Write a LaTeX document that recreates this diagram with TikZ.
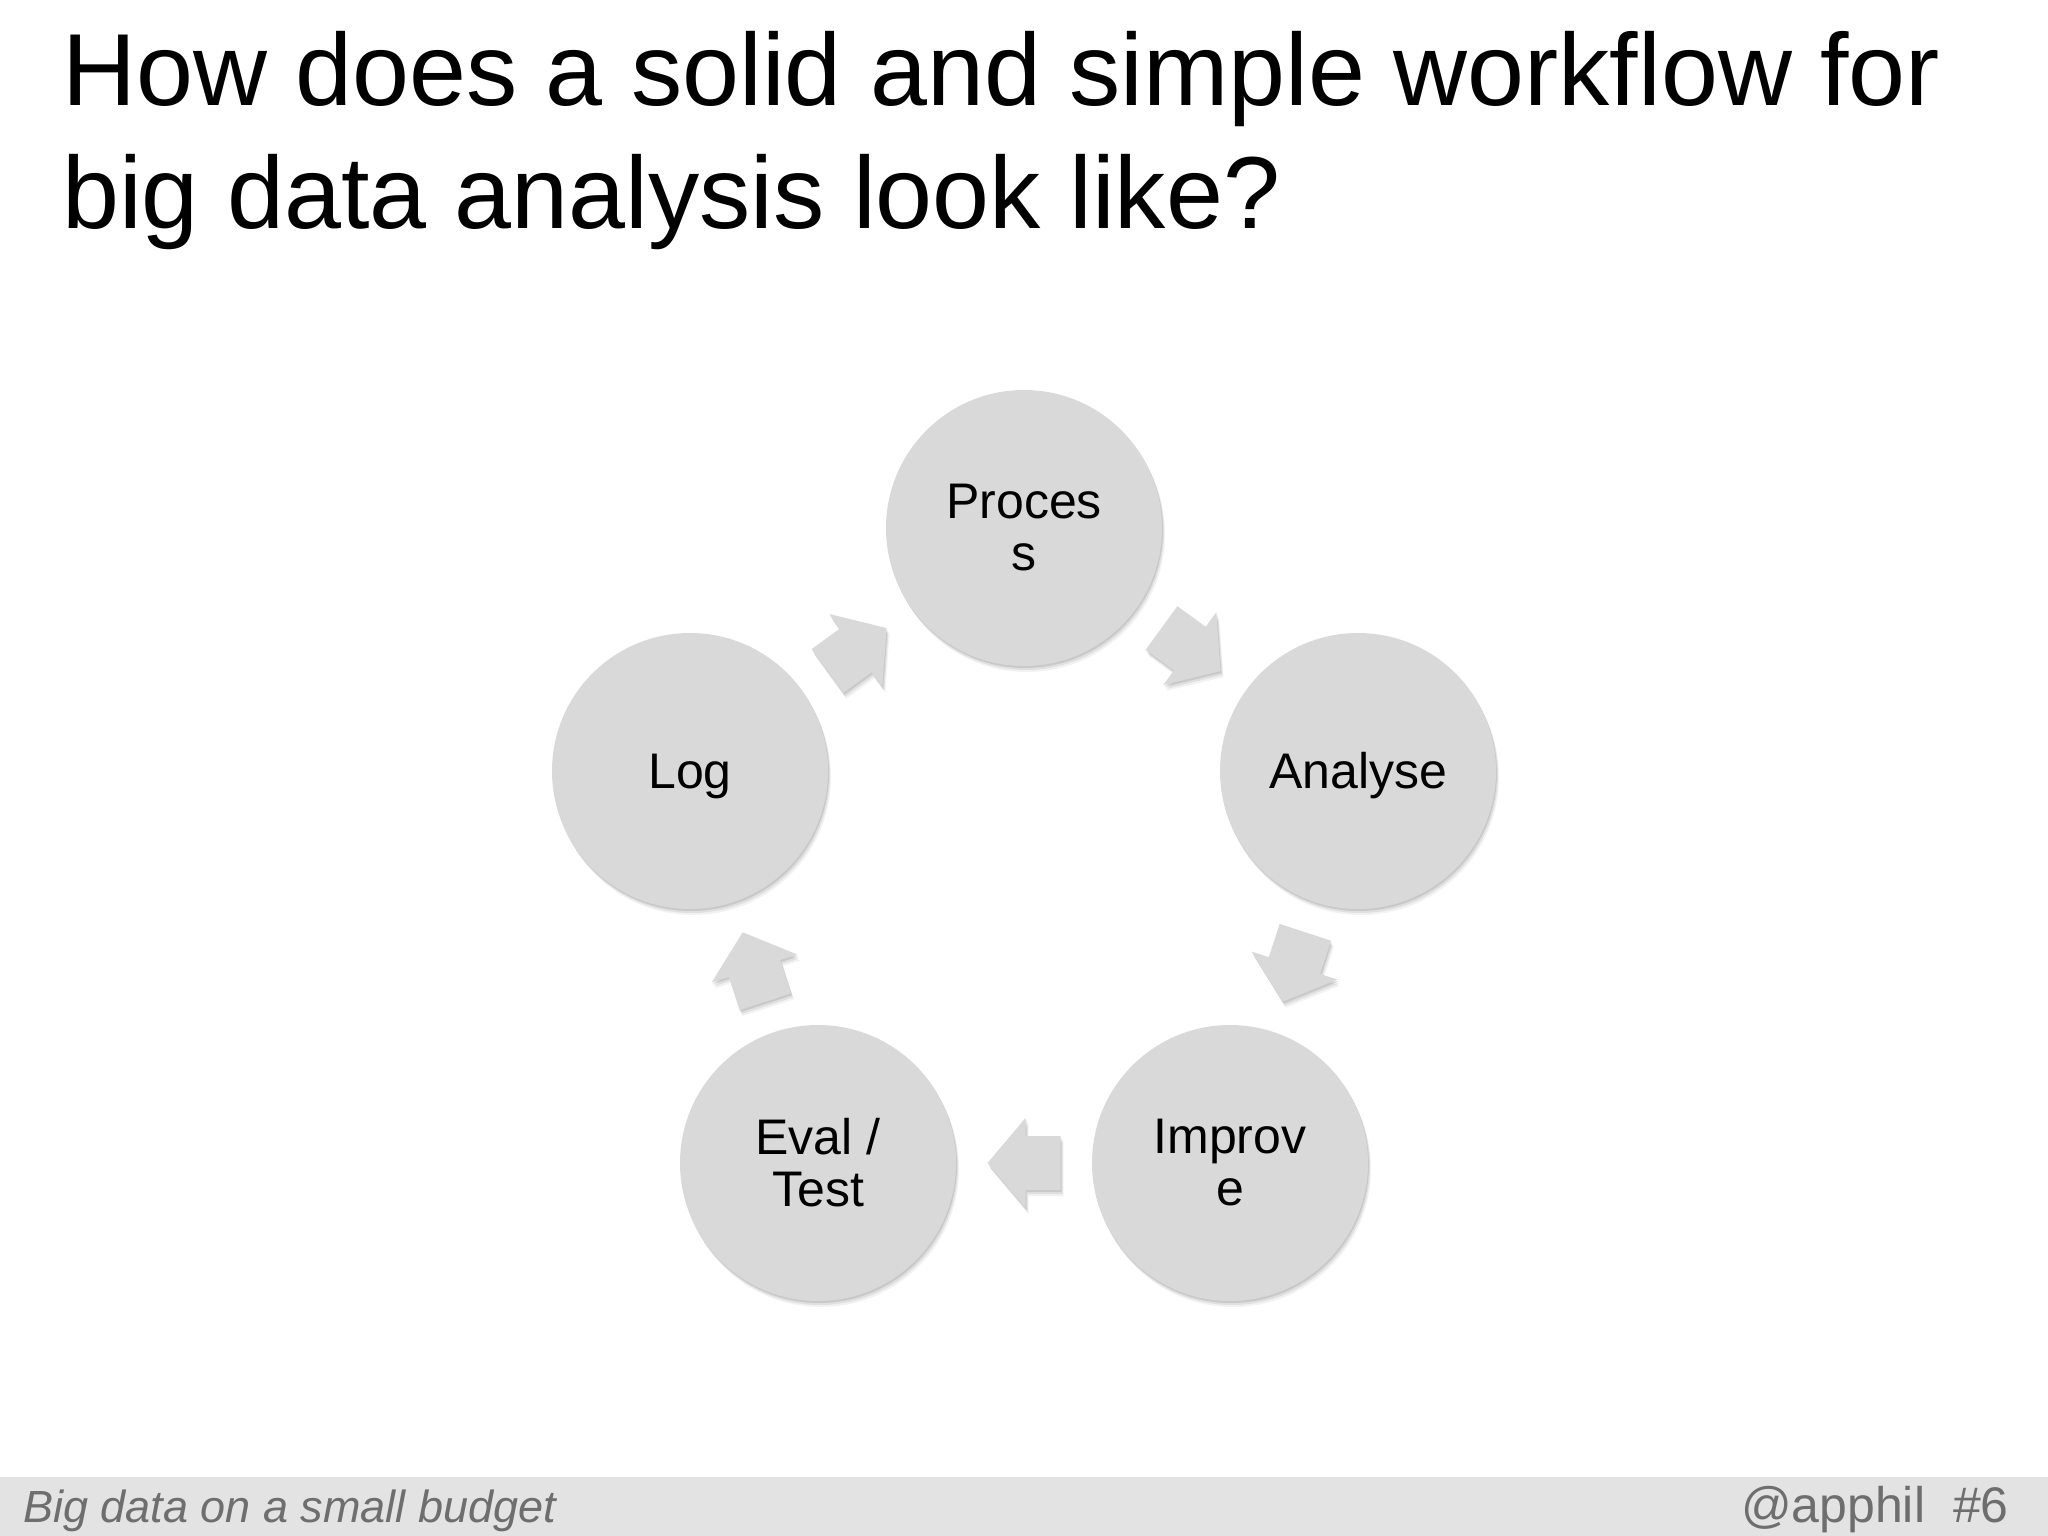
\documentclass[tikz,border=0pt]{standalone}
\usepackage{fontspec}
\setmainfont{Liberation Sans}
\usetikzlibrary{calc,shadows}
\definecolor{circfill}{HTML}{D9D9D9}
\definecolor{barfill}{HTML}{E3E3E3}
\definecolor{foottext}{HTML}{6E6E6E}
\tikzset{
  softshadow/.style={
    drop shadow={shadow xshift=1pt, shadow yshift=-2pt, opacity=0.10, fill=black},
    drop shadow={shadow xshift=2pt, shadow yshift=-4pt, opacity=0.07, fill=black},
    drop shadow={shadow xshift=3pt, shadow yshift=-6pt, opacity=0.05, fill=black}},
  stage/.style={circle, fill=circfill, minimum size=276pt, inner sep=0pt, align=center,
    font=\fontsize{50}{52}\selectfont, softshadow},
  oneline/.style={text height=34pt, text depth=0pt},
  cyclearrowstyle/.style={fill=circfill, softshadow},
}
\newcommand\cyclearrow[2]{%
  \coordinate (am) at ($(#1.center)!0.5!(#2.center)$);
  \coordinate (at) at ($(am)!36.5pt!(#2.center)$);
  \coordinate (an) at ($(am)!-1.5pt!(#2.center)$);
  \coordinate (ak) at ($(am)!-36.5pt!(#2.center)$);
  \fill[cyclearrowstyle] (at) -- ($(an)!45pt!90:(#2.center)$) -- ($(an)!27pt!90:(#2.center)$)
    -- ($(ak)!27pt!90:(#2.center)$) -- ($(ak)!27pt!-90:(#2.center)$)
    -- ($(an)!27pt!-90:(#2.center)$) -- ($(an)!45pt!-90:(#2.center)$) -- cycle;
}
\begin{document}
\begin{tikzpicture}[x=1pt,y=-1pt]
\useasboundingbox (0,0) rectangle (2048,1536);
\fill[white] (0,0) rectangle (2048,1536);
% title
\node[anchor=base west, align=left, inner sep=0pt, font=\fontsize{102.4}{123}\selectfont] (title)
  at (62,228) {How does a solid and simple workflow for\\big data analysis look like?};
% stages
\node[stage] (proc) at (1024,528) {Proces\\s};
\node[stage, oneline] (ana) at (1358,771) {Analyse};
\node[stage] (imp) at (1230,1163) {Improv\\e};
\node[stage] (eval) at (818,1163) {Eval /\\Test};
\node[stage, oneline] (log) at (690,771) {Log};
% arrows
\cyclearrow{proc}{ana}
\cyclearrow{ana}{imp}
\cyclearrow{imp}{eval}
\cyclearrow{eval}{log}
\cyclearrow{log}{proc}
% footer
\fill[barfill] (0,1477) rectangle (2048,1536);
\node[anchor=base west, inner sep=0pt, text=foottext, font=\fontsize{45}{50}\selectfont\itshape]
  (foot) at (23,1522) {Big data on a small budget};
\node[anchor=base east, inner sep=0pt, text=foottext, font=\fontsize{50}{54}\selectfont]
  (page) at (2009,1522) {@apphil\hspace{28pt}\#6};
\end{tikzpicture}
\end{document}
